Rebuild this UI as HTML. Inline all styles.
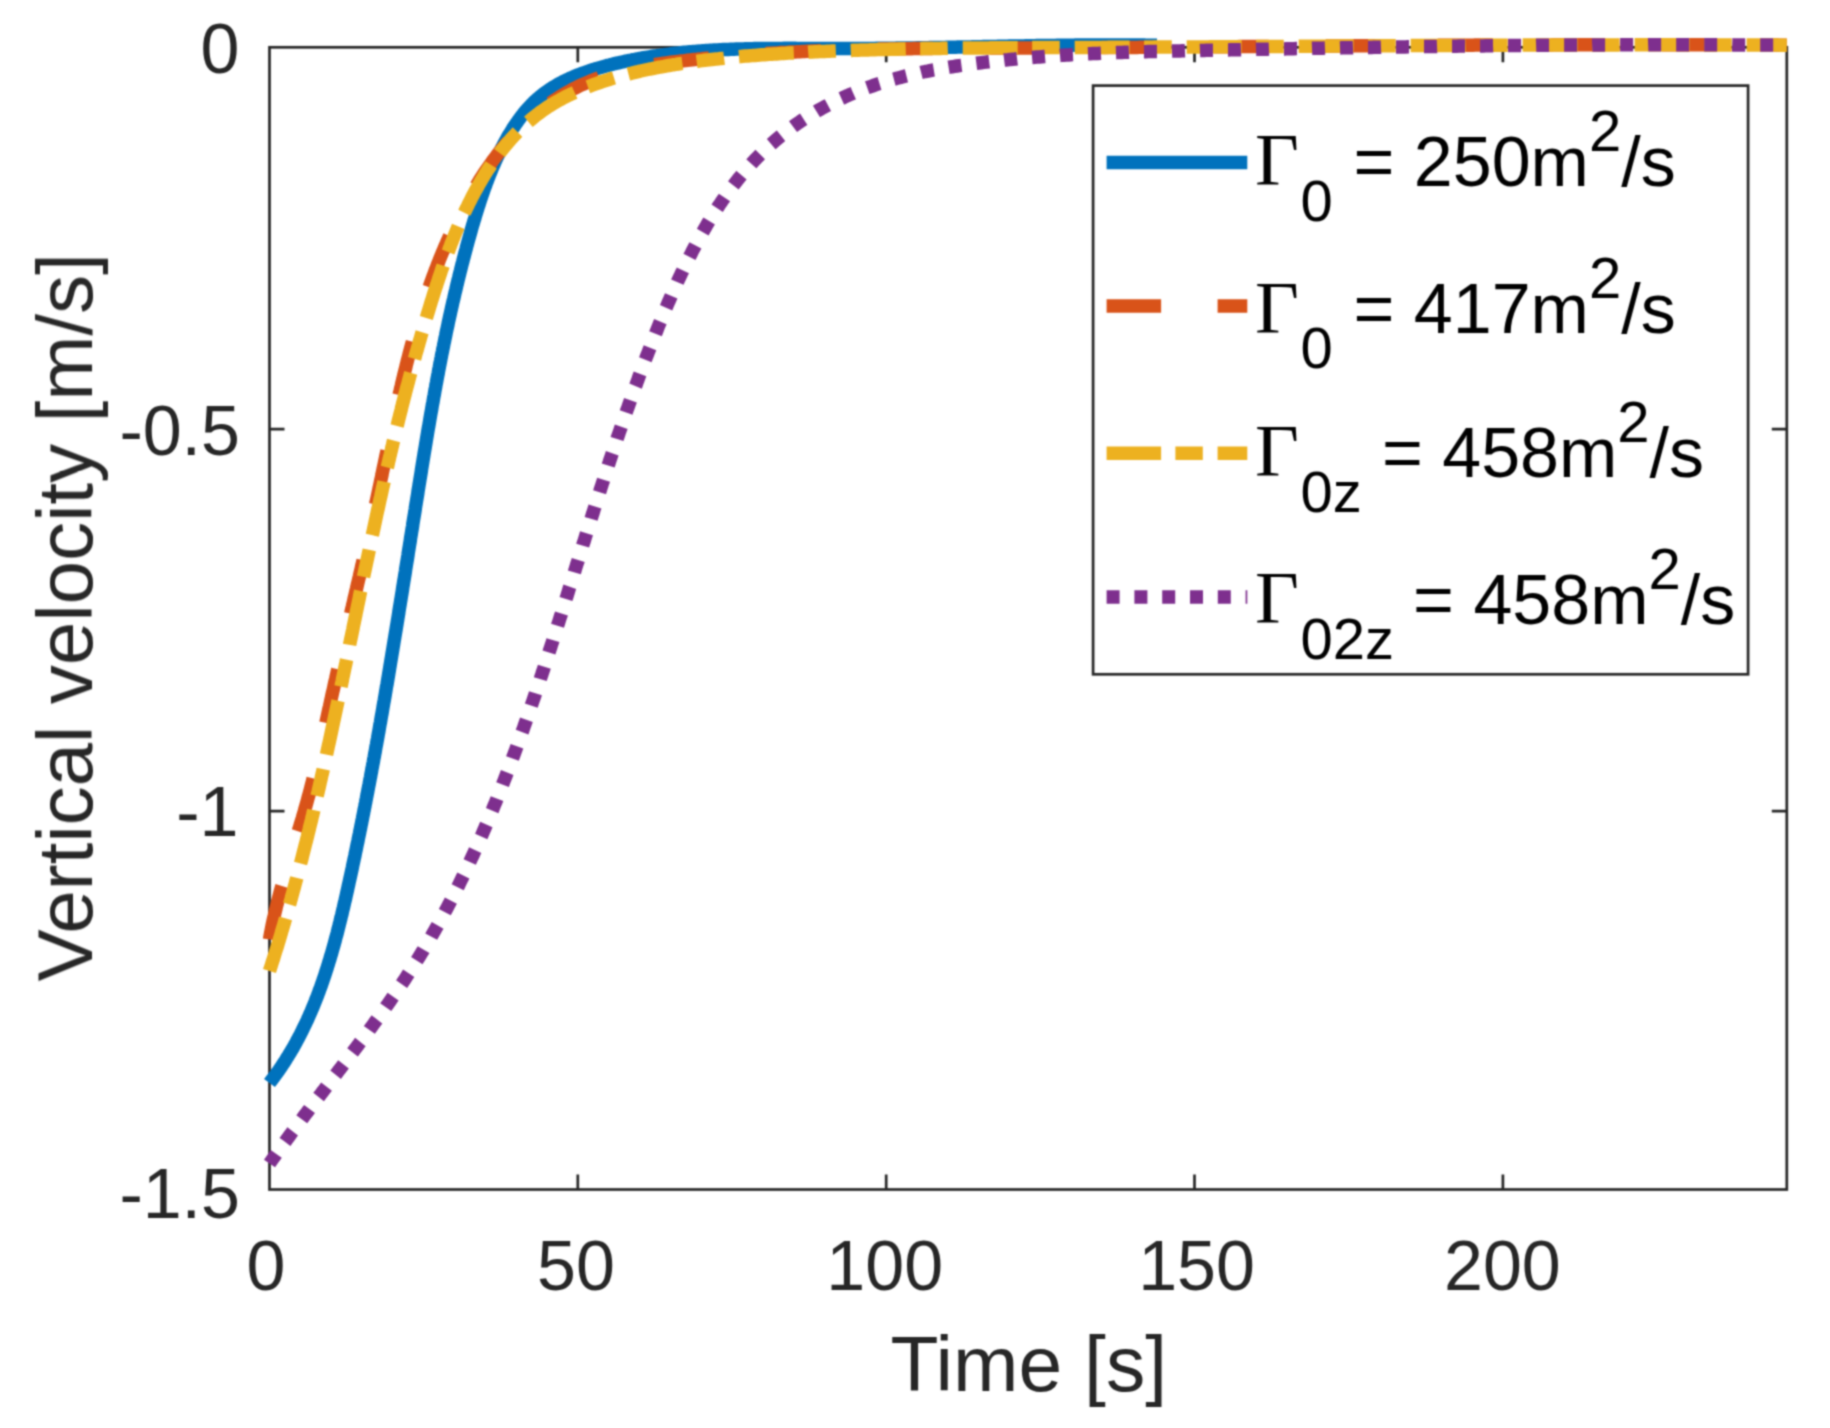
<!DOCTYPE html><html><head><meta charset="utf-8"><title>Vertical velocity</title><style>html,body{margin:0;padding:0;background:#fff;}svg{display:block;}</style></head><body>
<svg width="1830" height="1428" viewBox="0 0 1830 1428">
<rect x="0" y="0" width="1830" height="1428" fill="#fff"/>
<defs><filter id="soft" x="0" y="0" width="1830" height="1428" filterUnits="userSpaceOnUse" color-interpolation-filters="sRGB"><feConvolveMatrix order="5" kernelMatrix="0.00048 0.00501 0.01095 0.00501 0.00048 0.00501 0.05222 0.11405 0.05222 0.00501 0.01095 0.11405 0.24912 0.11405 0.01095 0.00501 0.05222 0.11405 0.05222 0.00501 0.00048 0.00501 0.01095 0.00501 0.00048" divisor="1.00000" edgeMode="duplicate"/></filter></defs>
<g filter="url(#soft)">
<rect x="269.5" y="47.3" width="1517.3" height="1142.2" fill="none" stroke="#262626" stroke-width="2.7"/>
<path d="M577.8 1189.5V1174.5M577.8 47.3V62.3M886.2 1189.5V1174.5M886.2 47.3V62.3M1194.5 1189.5V1174.5M1194.5 47.3V62.3M1502.9 1189.5V1174.5M1502.9 47.3V62.3M269.5 429.2H284.5M1786.8 429.2H1771.8M269.5 811.2H284.5M1786.8 811.2H1771.8" stroke="#262626" stroke-width="2.7" fill="none"/>
<path d="M269.5 1083.0L270.6 1081.5L271.8 1080.0L272.9 1078.5L274.0 1077.0L275.1 1075.5L276.2 1074.0L277.3 1072.5L278.4 1071.0L279.4 1069.5L280.5 1067.9L281.5 1066.4L282.5 1064.8L283.6 1063.3L284.6 1061.7L285.6 1060.2L286.5 1058.6L287.5 1057.1L288.5 1055.5L289.4 1053.9L290.4 1052.3L291.3 1050.8L292.3 1049.2L293.2 1047.6L294.1 1046.0L295.0 1044.4L295.9 1042.8L296.7 1041.2L297.6 1039.5L298.5 1037.9L299.3 1036.3L300.2 1034.7L301.0 1033.0L301.8 1031.4L302.6 1029.8L303.4 1028.1L304.2 1026.5L305.0 1024.8L305.8 1023.2L306.6 1021.5L307.4 1019.8L308.1 1018.2L308.9 1016.5L309.6 1014.8L310.3 1013.2L311.1 1011.5L311.8 1009.8L312.5 1008.1L313.2 1006.4L313.9 1004.7L314.6 1003.0L315.3 1001.3L315.9 999.6L316.6 997.9L317.3 996.2L317.9 994.5L318.6 992.8L319.2 991.0L319.8 989.3L320.5 987.6L321.1 985.9L321.7 984.1L322.3 982.4L322.9 980.7L323.5 978.9L324.1 977.2L324.7 975.5L325.3 973.7L325.8 972.0L326.4 970.2L327.0 968.5L327.5 966.7L328.1 964.9L328.6 963.2L329.1 961.4L329.7 959.7L330.2 957.9L330.7 956.1L331.3 954.3L331.8 952.6L332.3 950.8L332.8 949.0L333.3 947.2L333.8 945.5L334.3 943.7L334.8 941.9L335.3 940.1L335.7 938.3L336.2 936.5L336.7 934.8L337.2 933.0L337.6 931.2L338.1 929.4L338.5 927.6L339.0 925.8L339.4 924.0L339.9 922.2L340.3 920.4L340.8 918.6L341.2 916.8L341.7 915.0L342.1 913.2L342.5 911.4L342.9 909.6L343.4 907.8L343.8 906.0L344.2 904.1L344.6 902.3L345.1 900.5L345.5 898.7L345.9 896.9L346.3 895.1L346.7 893.3L347.1 891.5L347.5 889.7L347.9 887.9L348.3 886.0L348.7 884.2L349.1 882.4L349.5 880.6L349.9 878.8L350.3 877.0L350.7 875.2L351.1 873.3L351.5 871.5L351.9 869.7L352.3 867.9L352.6 866.1L353.0 864.3L353.4 862.5L353.8 860.6L354.2 858.8L354.6 857.0L355.0 855.2L355.3 853.4L355.7 851.6L356.1 849.8L356.5 847.9L356.8 846.1L357.2 844.3L357.6 842.5L358.0 840.7L358.3 838.9L358.7 837.1L359.1 835.2L359.5 833.4L359.8 831.6L360.2 829.8L360.6 828.0L360.9 826.2L361.3 824.3L361.7 822.5L362.0 820.7L362.4 818.9L362.7 817.1L363.1 815.3L363.5 813.4L363.8 811.6L364.2 809.8L364.5 808.0L364.9 806.2L365.2 804.4L365.6 802.6L365.9 800.7L366.3 798.9L366.6 797.1L367.0 795.3L367.3 793.5L367.7 791.7L368.0 789.8L368.4 788.0L368.7 786.2L369.1 784.4L369.4 782.6L369.8 780.7L370.1 778.9L370.5 777.1L370.8 775.3L371.1 773.5L371.5 771.7L371.8 769.8L372.1 768.0L372.5 766.2L372.8 764.4L373.2 762.6L373.5 760.8L373.8 758.9L374.2 757.1L374.5 755.3L374.8 753.5L375.2 751.7L375.5 749.8L375.8 748.0L376.1 746.2L376.5 744.4L376.8 742.6L377.1 740.8L377.5 738.9L377.8 737.1L378.1 735.3L378.4 733.5L378.8 731.7L379.1 729.8L379.4 728.0L379.7 726.2L380.0 724.4L380.4 722.6L380.7 720.7L381.0 718.9L381.3 717.1L381.6 715.3L382.0 713.5L382.3 711.7L382.6 709.8L382.9 708.0L383.2 706.2L383.5 704.4L383.8 702.6L384.2 700.7L384.5 698.9L384.8 697.1L385.1 695.3L385.4 693.5L385.7 691.6L386.0 689.8L386.3 688.0L386.6 686.2L387.0 684.4L387.3 682.5L387.6 680.7L387.9 678.9L388.2 677.1L388.5 675.3L388.8 673.4L389.1 671.6L389.4 669.8L389.7 668.0L390.0 666.2L390.3 664.3L390.6 662.5L390.9 660.7L391.2 658.9L391.5 657.1L391.8 655.2L392.1 653.4L392.4 651.6L392.7 649.8L393.0 648.0L393.3 646.1L393.6 644.3L393.9 642.5L394.2 640.7L394.5 638.9L394.8 637.0L395.1 635.2L395.4 633.4L395.7 631.6L396.0 629.8L396.3 627.9L396.6 626.1L396.9 624.3L397.2 622.5L397.5 620.7L397.8 618.8L398.1 617.0L398.4 615.2L398.7 613.4L398.9 611.6L399.2 609.7L399.5 607.9L399.8 606.1L400.1 604.3L400.4 602.5L400.7 600.6L401.0 598.8L401.3 597.0L401.6 595.2L401.9 593.4L402.2 591.5L402.5 589.7L402.7 587.9L403.0 586.1L403.3 584.3L403.6 582.4L403.9 580.6L404.2 578.8L404.5 577.0L404.8 575.1L405.1 573.3L405.4 571.5L405.6 569.7L405.9 567.9L406.2 566.0L406.5 564.2L406.8 562.4L407.1 560.6L407.4 558.8L407.7 556.9L408.0 555.1L408.2 553.3L408.5 551.5L408.8 549.7L409.1 547.8L409.4 546.0L409.7 544.2L410.0 542.4L410.3 540.6L410.5 538.7L410.8 536.9L411.1 535.1L411.4 533.3L411.7 531.5L412.0 529.6L412.3 527.8L412.6 526.0L412.8 524.2L413.1 522.4L413.4 520.5L413.7 518.7L414.0 516.9L414.3 515.1L414.6 513.3L414.9 511.4L415.2 509.6L415.4 507.8L415.7 506.0L416.0 504.2L416.3 502.3L416.6 500.5L416.9 498.7L417.2 496.9L417.5 495.1L417.8 493.2L418.0 491.4L418.3 489.6L418.6 487.8L418.9 486.0L419.2 484.1L419.5 482.3L419.8 480.5L420.1 478.7L420.4 476.9L420.7 475.1L421.0 473.2L421.3 471.4L421.5 469.6L421.8 467.8L422.1 466.0L422.4 464.1L422.7 462.3L423.0 460.5L423.3 458.7L423.6 456.9L423.9 455.0L424.2 453.2L424.5 451.4L424.8 449.6L425.1 447.8L425.4 446.0L425.7 444.1L426.0 442.3L426.3 440.5L426.6 438.7L426.9 436.9L427.2 435.1L427.5 433.2L427.8 431.4L428.1 429.6L428.4 427.8L428.8 426.0L429.1 424.2L429.4 422.3L429.7 420.5L430.0 418.7L430.3 416.9L430.6 415.1L430.9 413.3L431.3 411.4L431.6 409.6L431.9 407.8L432.2 406.0L432.5 404.2L432.9 402.4L433.2 400.6L433.5 398.7L433.8 396.9L434.2 395.1L434.5 393.3L434.8 391.5L435.1 389.7L435.5 387.9L435.8 386.0L436.1 384.2L436.5 382.4L436.8 380.6L437.1 378.8L437.5 377.0L437.8 375.2L438.2 373.4L438.5 371.5L438.8 369.7L439.2 367.9L439.5 366.1L439.9 364.3L440.2 362.5L440.6 360.7L440.9 358.9L441.3 357.1L441.6 355.2L442.0 353.4L442.4 351.6L442.7 349.8L443.1 348.0L443.5 346.2L443.8 344.4L444.2 342.6L444.6 340.8L444.9 339.0L445.3 337.2L445.7 335.4L446.0 333.6L446.4 331.7L446.8 329.9L447.2 328.1L447.6 326.3L448.0 324.5L448.3 322.7L448.7 320.9L449.1 319.1L449.5 317.3L449.9 315.5L450.3 313.7L450.7 311.9L451.1 310.1L451.5 308.3L451.9 306.5L452.3 304.7L452.7 302.9L453.1 301.1L453.6 299.3L454.0 297.5L454.4 295.7L454.8 293.9L455.2 292.1L455.7 290.3L456.1 288.5L456.5 286.7L456.9 284.9L457.4 283.1L457.8 281.3L458.2 279.5L458.7 277.7L459.1 275.9L459.6 274.1L460.0 272.3L460.5 270.5L460.9 268.7L461.4 266.9L461.8 265.1L462.3 263.3L462.8 261.5L463.2 259.7L463.7 257.9L464.2 256.1L464.6 254.4L465.1 252.6L465.6 250.8L466.1 249.0L466.5 247.2L467.0 245.4L467.5 243.6L468.0 241.8L468.5 240.0L469.0 238.2L469.5 236.5L470.0 234.7L470.5 232.9L471.0 231.1L471.5 229.3L472.0 227.5L472.5 225.7L473.1 223.9L473.6 222.2L474.1 220.4L474.7 218.6L475.2 216.8L475.7 215.0L476.3 213.2L476.8 211.5L477.4 209.7L477.9 207.9L478.5 206.1L479.1 204.4L479.6 202.6L480.2 200.8L480.8 199.1L481.4 197.3L482.0 195.6L482.6 193.8L483.2 192.0L483.8 190.3L484.4 188.5L485.1 186.8L485.7 185.0L486.3 183.3L487.0 181.6L487.7 179.8L488.3 178.1L489.0 176.4L489.7 174.6L490.4 172.9L491.1 171.2L491.8 169.5L492.5 167.8L493.2 166.1L494.0 164.4L494.7 162.7L495.5 161.0L496.2 159.3L497.0 157.6L497.8 156.0L498.6 154.3L499.4 152.6L500.2 151.0L501.1 149.3L501.9 147.6L502.8 146.0L503.6 144.4L504.5 142.7L505.4 141.1L506.3 139.5L507.2 137.9L508.1 136.2L509.1 134.6L510.0 133.1L511.0 131.5L512.0 129.9L512.9 128.3L514.0 126.8L515.0 125.2L516.0 123.7L517.1 122.2L518.1 120.7L519.2 119.2L520.3 117.7L521.4 116.2L522.5 114.8L523.7 113.3L524.8 111.9L526.0 110.5L527.2 109.2L528.4 107.8L529.6 106.5L530.9 105.2L532.1 103.9L533.4 102.6L534.7 101.3L536.0 100.1L537.4 98.9L538.7 97.7L540.1 96.6L541.5 95.5L542.9 94.3L544.3 93.3L545.8 92.2L547.2 91.2L548.7 90.1L550.2 89.1L551.7 88.2L553.2 87.2L554.8 86.3L556.3 85.3L557.9 84.4L559.5 83.6L561.1 82.7L562.7 81.9L564.3 81.0L565.9 80.2L567.6 79.5L569.2 78.7L570.9 77.9L572.6 77.2L574.2 76.5L575.9 75.8L577.6 75.1L579.3 74.4L581.1 73.7L582.8 73.1L584.5 72.5L586.3 71.9L588.0 71.3L589.8 70.7L591.5 70.1L593.3 69.5L595.1 69.0L596.9 68.4L598.7 67.9L600.5 67.4L602.2 66.9L604.0 66.4L605.8 65.9L607.7 65.4L609.5 65.0L611.3 64.5L613.1 64.1L614.9 63.6L616.7 63.2L618.5 62.8L620.4 62.4L622.2 62.0L624.0 61.6L625.8 61.2L627.6 60.8L629.5 60.4L631.3 60.1L633.1 59.7L634.9 59.4L636.7 59.0L638.6 58.7L640.4 58.3L642.2 58.0L644.0 57.7L645.9 57.4L647.7 57.1L649.5 56.8L651.4 56.5L653.2 56.2L655.0 55.9L656.8 55.7L658.7 55.4L660.5 55.2L662.3 54.9L664.2 54.7L666.0 54.4L667.8 54.2L669.7 54.0L671.5 53.7L673.3 53.5L675.2 53.3L677.0 53.1L678.9 52.9L680.7 52.7L682.5 52.5L684.4 52.3L686.2 52.2L688.0 52.0L689.9 51.8L691.7 51.7L693.6 51.5L695.4 51.4L697.2 51.2L699.1 51.1L700.9 50.9L702.8 50.8L704.6 50.7L706.5 50.5L708.3 50.4L710.1 50.3L712.0 50.2L713.8 50.1L715.7 50.0L717.5 49.9L719.4 49.8L721.2 49.7L723.1 49.6L724.9 49.5L726.7 49.4L728.6 49.4L730.4 49.3L732.3 49.2L734.1 49.2L736.0 49.1L737.8 49.0L739.7 49.0L741.5 48.9L743.4 48.9L745.2 48.8L747.1 48.8L748.9 48.7L750.8 48.7L752.6 48.7L754.5 48.6L756.3 48.6L758.2 48.6L760.0 48.5L761.9 48.5L763.7 48.5L765.6 48.5L767.4 48.4L769.3 48.4L771.1 48.4L773.0 48.4L774.8 48.4L776.7 48.4L778.5 48.4L780.4 48.4L782.2 48.4L784.1 48.3L785.9 48.3L787.8 48.3L789.6 48.3L791.5 48.3L793.3 48.3L795.2 48.3L797.0 48.4L798.9 48.4L800.7 48.4L802.6 48.4L804.4 48.4L806.3 48.4L808.1 48.4L810.0 48.4L811.8 48.4L813.7 48.4L815.5 48.4L817.4 48.4L819.3 48.4L821.1 48.4L823.0 48.4L824.8 48.5L826.7 48.5L828.5 48.5L830.4 48.5L832.2 48.5L834.1 48.5L835.9 48.5L837.8 48.5L839.6 48.5L841.5 48.5L843.3 48.5L845.1 48.5L847.0 48.5L848.8 48.5L850.7 48.5L852.5 48.5L854.4 48.5L856.2 48.5L858.1 48.5L859.9 48.5L861.8 48.4L863.6 48.4L865.5 48.4L867.3 48.4L869.2 48.4L871.0 48.4L872.9 48.4L874.7 48.4L876.6 48.3L878.4 48.3L880.2 48.3L882.1 48.3L883.9 48.3L885.8 48.3L887.6 48.2L889.5 48.2L891.3 48.2L893.2 48.2L895.0 48.2L896.8 48.1L898.7 48.1L900.5 48.1L902.4 48.1L904.2 48.0L906.1 48.0L907.9 48.0L909.8 48.0L911.6 47.9L913.4 47.9L915.3 47.9L917.1 47.8L919.0 47.8L920.8 47.8L922.7 47.8L924.5 47.7L926.3 47.7L928.2 47.7L930.0 47.6L931.9 47.6L933.7 47.6L935.6 47.5L937.4 47.5L939.2 47.5L941.1 47.4L942.9 47.4L944.8 47.4L946.6 47.3L948.5 47.3L950.3 47.3L952.1 47.2L954.0 47.2L955.8 47.2L957.7 47.1L959.5 47.1L961.4 47.1L963.2 47.0L965.0 47.0L966.9 46.9L968.7 46.9L970.6 46.9L972.4 46.8L974.3 46.8L976.1 46.8L977.9 46.7L979.8 46.7L981.6 46.7L983.5 46.6L985.3 46.6L987.1 46.5L989.0 46.5L990.8 46.5L992.7 46.4L994.5 46.4L996.4 46.4L998.2 46.3L1000.0 46.3L1001.9 46.3L1003.7 46.2L1005.6 46.2L1007.4 46.2L1009.3 46.1L1011.1 46.1L1012.9 46.1L1014.8 46.0L1016.6 46.0L1018.5 46.0L1020.3 45.9L1022.2 45.9L1024.0 45.9L1025.8 45.8L1027.7 45.8L1029.5 45.8L1031.4 45.7L1033.2 45.7L1035.1 45.7L1036.9 45.6L1038.7 45.6L1040.6 45.6L1042.4 45.6L1044.3 45.5L1046.1 45.5L1048.0 45.5L1049.8 45.4L1051.6 45.4L1053.5 45.4L1055.3 45.4L1057.2 45.3L1059.0 45.3L1060.9 45.3L1062.7 45.3L1064.6 45.3L1066.4 45.2L1068.2 45.2L1070.1 45.2L1071.9 45.2L1073.8 45.2L1075.6 45.1L1077.5 45.1L1079.3 45.1L1081.2 45.1L1083.0 45.1L1084.9 45.1L1086.7 45.1L1088.6 45.0L1090.4 45.0L1092.2 45.0L1094.1 45.0L1095.9 45.0L1097.8 45.0L1099.6 45.0L1101.5 45.0L1103.3 45.0L1105.2 45.0L1107.0 45.0L1108.9 45.0L1110.7 45.0L1112.6 45.0L1114.4 45.0L1116.3 45.0L1118.1 45.0L1120.0 45.0L1121.8 45.0L1123.7 45.0L1125.5 45.0L1127.4 45.0L1129.2 45.0L1131.1 45.0L1132.9 45.0L1134.8 45.1L1136.6 45.1L1138.5 45.1L1140.3 45.1L1142.2 45.1L1144.0 45.1L1145.9 45.2L1147.7 45.2L1149.6 45.2L1151.4 45.2L1153.3 45.2L1155.1 45.3L1157.0 45.3" fill="none" stroke="#0072BD" stroke-width="13.5" stroke-linejoin="round" stroke-linecap="butt"/>
<path d="M269.5 939.5L269.9 937.1L270.3 934.8L270.8 932.5L271.2 930.1L271.7 927.8L272.1 925.5L272.6 923.1L273.1 920.8L273.6 918.5L274.2 916.2L274.7 913.8L275.2 911.5L275.8 909.2L276.3 906.9L276.9 904.6L277.5 902.3L278.1 900.0L278.7 897.7L279.3 895.4L279.9 893.1L280.5 890.8L281.2 888.6L281.8 886.3L282.5 884.0L283.1 881.7L283.8 879.4L284.4 877.1L285.1 874.9L285.8 872.6L286.4 870.3L287.1 868.0L287.8 865.7L288.5 863.5L289.2 861.2L289.9 858.9L290.6 856.7L291.3 854.4L291.9 852.1L292.6 849.8L293.3 847.6L294.0 845.3L294.7 843.0L295.4 840.7L296.1 838.5L296.8 836.2L297.5 833.9L298.2 831.6L298.9 829.4L299.6 827.1L300.3 824.8L301.0 822.5L301.7 820.2L302.4 818.0L303.0 815.7L303.7 813.4L304.4 811.1L305.0 808.8L305.7 806.5L306.3 804.2L307.0 801.9L307.6 799.6L308.2 797.3L308.9 795.0L309.5 792.7L310.1 790.4L310.7 788.1L311.3 785.8L311.9 783.5L312.5 781.2L313.0 778.9L313.6 776.5L314.2 774.2L314.8 771.9L315.3 769.6L315.9 767.3L316.4 764.9L317.0 762.6L317.5 760.3L318.1 758.0L318.6 755.6L319.1 753.3L319.7 751.0L320.2 748.6L320.7 746.3L321.3 744.0L321.8 741.6L322.3 739.3L322.8 737.0L323.3 734.6L323.8 732.3L324.4 730.0L324.9 727.6L325.4 725.3L325.9 723.0L326.4 720.7L326.9 718.3L327.4 716.0L327.9 713.7L328.4 711.3L328.9 709.0L329.5 706.7L330.0 704.3L330.5 702.0L331.0 699.7L331.5 697.4L332.0 695.0L332.5 692.7L333.1 690.4L333.6 688.1L334.1 685.8L334.6 683.4L335.1 681.1L335.7 678.8L336.2 676.5L336.7 674.2L337.2 671.9L337.8 669.5L338.3 667.2L338.8 664.9L339.3 662.6L339.9 660.3L340.4 658.0L340.9 655.7L341.5 653.4L342.0 651.1L342.5 648.7L343.1 646.4L343.6 644.1L344.1 641.8L344.7 639.5L345.2 637.2L345.7 634.9L346.3 632.6L346.8 630.3L347.3 628.0L347.9 625.7L348.4 623.4L349.0 621.1L349.5 618.8L350.0 616.5L350.6 614.2L351.1 611.9L351.6 609.6L352.2 607.3L352.7 605.0L353.3 602.7L353.8 600.4L354.3 598.0L354.9 595.7L355.4 593.4L355.9 591.1L356.5 588.8L357.0 586.5L357.5 584.2L358.1 581.9L358.6 579.6L359.2 577.3L359.7 575.0L360.2 572.7L360.8 570.4L361.3 568.1L361.8 565.8L362.4 563.5L362.9 561.2L363.4 558.9L363.9 556.6L364.5 554.3L365.0 551.9L365.5 549.6L366.1 547.3L366.6 545.0L367.1 542.7L367.6 540.4L368.2 538.1L368.7 535.8L369.2 533.4L369.7 531.1L370.2 528.8L370.8 526.5L371.3 524.2L371.8 521.9L372.3 519.5L372.8 517.2L373.3 514.9L373.8 512.6L374.4 510.2L374.9 507.9L375.4 505.6L375.9 503.3L376.4 500.9L376.9 498.6L377.4 496.3L377.9 494.0L378.4 491.6L378.9 489.3L379.4 486.9L379.9 484.6L380.4 482.3L380.9 479.9L381.4 477.6L381.9 475.3L382.3 472.9L382.8 470.6L383.3 468.2L383.8 465.9L384.3 463.6L384.8 461.2L385.3 458.9L385.8 456.5L386.3 454.2L386.8 451.8L387.3 449.5L387.8 447.2L388.3 444.8L388.8 442.5L389.3 440.1L389.7 437.8L390.2 435.4L390.7 433.1L391.2 430.7L391.8 428.4L392.3 426.1L392.8 423.7L393.3 421.4L393.8 419.0L394.3 416.7L394.8 414.3L395.3 412.0L395.8 409.7L396.4 407.3L396.9 405.0L397.4 402.7L397.9 400.3L398.5 398.0L399.0 395.6L399.5 393.3L400.1 391.0L400.6 388.6L401.2 386.3L401.7 384.0L402.3 381.6L402.8 379.3L403.4 377.0L403.9 374.7L404.5 372.3L405.1 370.0L405.7 367.7L406.2 365.4L406.8 363.1L407.4 360.7L408.0 358.4L408.6 356.1L409.2 353.8L409.8 351.5L410.4 349.2L411.0 346.9L411.6 344.6L412.3 342.3L412.9 340.0L413.5 337.7L414.2 335.4L414.8 333.1L415.5 330.8L416.1 328.5L416.8 326.2L417.5 323.9L418.1 321.6L418.8 319.4L419.5 317.1L420.2 314.8L420.9 312.5L421.6 310.3L422.3 308.0L423.0 305.7L423.8 303.5L424.5 301.2L425.2 298.9L426.0 296.7L426.7 294.4L427.5 292.2L428.3 289.9L429.0 287.7L429.8 285.5L430.6 283.2L431.4 281.0L432.2 278.8L433.0 276.5L433.9 274.3L434.7 272.1L435.5 269.9L436.4 267.7L437.2 265.5L438.1 263.2L439.0 261.0L439.8 258.8L440.7 256.7L441.6 254.5L442.5 252.3L443.5 250.1L444.4 247.9L445.3 245.7L446.3 243.6L447.2 241.4L448.2 239.2L449.1 237.1L450.1 234.9L451.1 232.8L452.1 230.6L453.1 228.5L454.2 226.3L455.2 224.2L456.2 222.1L457.3 220.0L458.4 217.8L459.4 215.7L460.5 213.6L461.6 211.5L462.7 209.4L463.8 207.3L465.0 205.2L466.1 203.1L467.3 201.0L468.4 199.0L469.6 196.9L470.8 194.8L472.0 192.8L473.2 190.7L474.4 188.7L475.7 186.6L476.9 184.6L478.2 182.5L479.4 180.5L480.7 178.5L482.0 176.5L483.3 174.5L484.6 172.4L486.0 170.4L487.3 168.5L488.7 166.5L490.1 164.5L491.5 162.5L492.9 160.6L494.3 158.7L495.8 156.7L497.2 154.8L498.7 152.9L500.2 151.0L501.7 149.1L503.2 147.3L504.8 145.4L506.4 143.6L507.9 141.8L509.5 139.9L511.1 138.2L512.8 136.4L514.4 134.6L516.1 132.9L517.7 131.1L519.4 129.4L521.1 127.7L522.8 126.0L524.6 124.4L526.3 122.7L528.1 121.1L529.8 119.5L531.6 117.9L533.4 116.3L535.3 114.8L537.1 113.2L538.9 111.7L540.8 110.2L542.7 108.8L544.6 107.3L546.5 105.9L548.4 104.5L550.3 103.1L552.3 101.7L554.2 100.4L556.2 99.1L558.2 97.8L560.2 96.5L562.2 95.3L564.2 94.1L566.3 92.9L568.3 91.7L570.4 90.5L572.4 89.4L574.5 88.3L576.6 87.3L578.7 86.2L580.9 85.2L583.0 84.3L585.2 83.3L587.3 82.4L589.5 81.5L591.7 80.6L593.9 79.7L596.1 78.9L598.3 78.1L600.5 77.3L602.8 76.6L605.0 75.9L607.3 75.1L609.5 74.4L611.8 73.8L614.1 73.1L616.4 72.5L618.7 71.9L621.0 71.3L623.3 70.7L625.6 70.2L627.9 69.6L630.3 69.1L632.6 68.6L634.9 68.1L637.3 67.6L639.6 67.2L642.0 66.7L644.4 66.3L646.7 65.9L649.1 65.5L651.5 65.1L653.9 64.7L656.2 64.3L658.6 64.0L661.0 63.6L663.4 63.3L665.8 63.0L668.2 62.6L670.6 62.3L673.0 62.0L675.4 61.7L677.8 61.4L680.2 61.1L682.6 60.9L685.0 60.6L687.4 60.3L689.8 60.1L692.2 59.8L694.6 59.5L697.0 59.3L699.4 59.0L701.8 58.8L704.2 58.5L706.6 58.3L709.0 58.1L711.4 57.8L713.8 57.6L716.2 57.4L718.6 57.2L721.0 57.0L723.4 56.7L725.8 56.5L728.2 56.3L730.6 56.1L732.9 55.9L735.3 55.7L737.7 55.5L740.1 55.4L742.5 55.2L744.9 55.0L747.3 54.8L749.7 54.6L752.1 54.5L754.5 54.3L756.8 54.1L759.2 54.0L761.6 53.8L764.0 53.7L766.4 53.5L768.8 53.3L771.2 53.2L773.6 53.1L775.9 52.9L778.3 52.8L780.7 52.6L783.1 52.5L785.5 52.4L787.9 52.3L790.3 52.1L792.6 52.0L795.0 51.9L797.4 51.8L799.8 51.7L802.2 51.5L804.5 51.4L806.9 51.3L809.3 51.2L811.7 51.1L814.1 51.0L816.5 50.9L818.8 50.8L821.2 50.7L823.6 50.7L826.0 50.6L828.3 50.5L830.7 50.4L833.1 50.3L835.5 50.2L837.9 50.2L840.2 50.1L842.6 50.0L845.0 50.0L847.4 49.9L849.7 49.8L852.1 49.8L854.5 49.7L856.9 49.6L859.3 49.6L861.6 49.5L864.0 49.5L866.4 49.4L868.8 49.4L871.1 49.3L873.5 49.3L875.9 49.2L878.3 49.2L880.6 49.1L883.0 49.1L885.4 49.0L887.8 49.0L890.1 49.0L892.5 48.9L894.9 48.9L897.3 48.8L899.6 48.8L902.0 48.8L904.4 48.7L906.7 48.7L909.1 48.7L911.5 48.7L913.9 48.6L916.2 48.6L918.6 48.6L921.0 48.6L923.4 48.5L925.7 48.5L928.1 48.5L930.5 48.5L932.9 48.5L935.2 48.4L937.6 48.4L940.0 48.4L942.3 48.4L944.7 48.4L947.1 48.4L949.5 48.3L951.8 48.3L954.2 48.3L956.6 48.3L959.0 48.3L961.3 48.3L963.7 48.3L966.1 48.2L968.4 48.2L970.8 48.2L973.2 48.2L975.6 48.2L977.9 48.2L980.3 48.2L982.7 48.2L985.1 48.2L987.4 48.2L989.8 48.1L992.2 48.1L994.5 48.1L996.9 48.1L999.3 48.1L1001.7 48.1L1004.0 48.1L1006.4 48.1L1008.8 48.1L1011.2 48.1L1013.5 48.0L1015.9 48.0L1018.3 48.0L1020.7 48.0L1023.0 48.0L1025.4 48.0L1027.8 48.0L1030.2 48.0L1032.5 48.0L1034.9 47.9L1037.3 47.9L1039.7 47.9L1042.0 47.9L1044.4 47.9L1046.8 47.9L1049.2 47.9L1051.5 47.9L1053.9 47.8L1056.3 47.8L1058.7 47.8L1061.0 47.8L1063.4 47.8L1065.8 47.8L1068.2 47.8L1070.6 47.8L1072.9 47.7L1075.3 47.7L1077.7 47.7L1080.1 47.7L1082.4 47.7L1084.8 47.7L1087.2 47.7L1089.6 47.6L1091.9 47.6L1094.3 47.6L1096.7 47.6L1099.1 47.6L1101.5 47.6L1103.8 47.6L1106.2 47.5L1108.6 47.5L1111.0 47.5L1113.3 47.5L1115.7 47.5L1118.1 47.5L1120.5 47.5L1122.9 47.4L1125.2 47.4L1127.6 47.4L1130.0 47.4L1132.4 47.4L1134.7 47.4L1137.1 47.4L1139.5 47.3L1141.9 47.3L1144.3 47.3L1146.6 47.3L1149.0 47.3L1151.4 47.3L1153.8 47.2L1156.2 47.2L1158.5 47.2L1160.9 47.2L1163.3 47.2L1165.7 47.2L1168.0 47.1L1170.4 47.1L1172.8 47.1L1175.2 47.1L1177.6 47.1L1179.9 47.1L1182.3 47.0L1184.7 47.0L1187.1 47.0L1189.5 47.0L1191.8 47.0L1194.2 47.0L1196.6 46.9L1199.0 46.9L1201.4 46.9L1203.7 46.9L1206.1 46.9L1208.5 46.9L1210.9 46.8L1213.3 46.8L1215.6 46.8L1218.0 46.8L1220.4 46.8L1222.8 46.8L1225.2 46.7L1227.5 46.7L1229.9 46.7L1232.3 46.7L1234.7 46.7L1237.1 46.7L1239.5 46.6L1241.8 46.6L1244.2 46.6L1246.6 46.6L1249.0 46.6L1251.4 46.6L1253.7 46.5L1256.1 46.5L1258.5 46.5L1260.9 46.5L1263.3 46.5L1265.6 46.5L1268.0 46.4L1270.4 46.4L1272.8 46.4L1275.2 46.4L1277.5 46.4L1279.9 46.4L1282.3 46.3L1284.7 46.3L1287.1 46.3L1289.5 46.3L1291.8 46.3L1294.2 46.3L1296.6 46.2L1299.0 46.2L1301.4 46.2L1303.7 46.2L1306.1 46.2L1308.5 46.2L1310.9 46.1L1313.3 46.1L1315.7 46.1L1318.0 46.1L1320.4 46.1L1322.8 46.1L1325.2 46.0L1327.6 46.0L1329.9 46.0L1332.3 46.0L1334.7 46.0L1337.1 46.0L1339.5 45.9L1341.9 45.9L1344.2 45.9L1346.6 45.9L1349.0 45.9L1351.4 45.9L1353.8 45.8L1356.1 45.8L1358.5 45.8L1360.9 45.8L1363.3 45.8L1365.7 45.8L1368.1 45.8L1370.4 45.7L1372.8 45.7L1375.2 45.7L1377.6 45.7L1380.0 45.7L1382.3 45.7L1384.7 45.6L1387.1 45.6L1389.5 45.6L1391.9 45.6L1394.3 45.6L1396.6 45.6L1399.0 45.6L1401.4 45.5L1403.8 45.5L1406.2 45.5L1408.5 45.5L1410.9 45.5L1413.3 45.5L1415.7 45.5L1418.1 45.4L1420.5 45.4L1422.8 45.4L1425.2 45.4L1427.6 45.4L1430.0 45.4L1432.4 45.4L1434.7 45.4L1437.1 45.3L1439.5 45.3L1441.9 45.3L1444.3 45.3L1446.7 45.3L1449.0 45.3L1451.4 45.3L1453.8 45.2L1456.2 45.2L1458.6 45.2L1460.9 45.2L1463.3 45.2L1465.7 45.2L1468.1 45.2L1470.5 45.2L1472.9 45.2L1475.2 45.1L1477.6 45.1L1480.0 45.1L1482.4 45.1L1484.8 45.1L1487.1 45.1L1489.5 45.1L1491.9 45.1L1494.3 45.1L1496.7 45.0L1499.1 45.0L1501.4 45.0L1503.8 45.0L1506.2 45.0L1508.6 45.0L1511.0 45.0L1513.3 45.0L1515.7 45.0L1518.1 45.0L1520.5 45.0L1522.9 44.9L1525.2 44.9L1527.6 44.9L1530.0 44.9L1532.4 44.9L1534.8 44.9L1537.1 44.9L1539.5 44.9L1541.9 44.9L1544.3 44.9L1546.7 44.9L1549.1 44.9L1551.4 44.9L1553.8 44.8L1556.2 44.8L1558.6 44.8L1561.0 44.8L1563.3 44.8L1565.7 44.8L1568.1 44.8L1570.5 44.8L1572.9 44.8L1575.2 44.8L1577.6 44.8L1580.0 44.8L1582.4 44.8L1584.8 44.8L1587.1 44.8L1589.5 44.8L1591.9 44.8L1594.3 44.8L1596.7 44.8L1599.0 44.8L1601.4 44.8L1603.8 44.7L1606.2 44.7L1608.6 44.7L1610.9 44.7L1613.3 44.7L1615.7 44.7L1618.1 44.7L1620.4 44.7L1622.8 44.7L1625.2 44.7L1627.6 44.7L1630.0 44.7L1632.3 44.7L1634.7 44.7L1637.1 44.7L1639.5 44.7L1641.9 44.7L1644.2 44.7L1646.6 44.7L1649.0 44.7L1651.4 44.7L1653.7 44.7L1656.1 44.7L1658.5 44.7L1660.9 44.7L1663.3 44.7L1665.6 44.7L1668.0 44.7L1670.4 44.8L1672.8 44.8L1675.1 44.8L1677.5 44.8L1679.9 44.8L1682.3 44.8L1684.7 44.8L1687.0 44.8L1689.4 44.8L1691.8 44.8L1694.2 44.8L1696.5 44.8L1698.9 44.8L1701.3 44.8L1703.7 44.8L1706.1 44.8L1708.4 44.8L1710.8 44.8L1713.2 44.8L1715.6 44.9L1717.9 44.9L1720.3 44.9L1722.7 44.9L1725.1 44.9L1727.4 44.9L1729.8 44.9L1732.2 44.9L1734.6 44.9L1736.9 44.9L1739.3 44.9L1741.7 45.0L1744.1 45.0L1746.4 45.0L1748.8 45.0L1751.2 45.0L1753.6 45.0L1755.9 45.0L1758.3 45.0L1760.7 45.0L1763.1 45.1L1765.4 45.1L1767.8 45.1L1770.2 45.1L1772.6 45.1L1774.9 45.1L1777.3 45.1L1779.7 45.2L1782.1 45.2L1784.4 45.2L1786.8 45.2" fill="none" stroke="#D95319" stroke-width="13.5" stroke-linejoin="round" stroke-linecap="butt" stroke-dasharray="55 57"/>
<path d="M269.5 971.0L270.2 968.7L271.0 966.4L271.7 964.1L272.4 961.8L273.2 959.5L273.9 957.2L274.6 954.9L275.3 952.6L276.0 950.3L276.8 948.0L277.5 945.7L278.2 943.4L278.9 941.0L279.6 938.7L280.3 936.4L281.0 934.1L281.6 931.8L282.3 929.5L283.0 927.2L283.7 924.9L284.4 922.5L285.0 920.2L285.7 917.9L286.4 915.6L287.0 913.3L287.7 911.0L288.4 908.6L289.0 906.3L289.7 904.0L290.3 901.7L291.0 899.4L291.6 897.0L292.2 894.7L292.9 892.4L293.5 890.1L294.2 887.7L294.8 885.4L295.4 883.1L296.0 880.7L296.7 878.4L297.3 876.1L297.9 873.8L298.5 871.4L299.1 869.1L299.7 866.8L300.3 864.4L300.9 862.1L301.6 859.8L302.2 857.4L302.7 855.1L303.3 852.8L303.9 850.4L304.5 848.1L305.1 845.7L305.7 843.4L306.3 841.1L306.9 838.7L307.5 836.4L308.0 834.0L308.6 831.7L309.2 829.4L309.7 827.0L310.3 824.7L310.9 822.3L311.5 820.0L312.0 817.6L312.6 815.3L313.1 813.0L313.7 810.6L314.2 808.3L314.8 805.9L315.4 803.6L315.9 801.2L316.5 798.9L317.0 796.5L317.5 794.2L318.1 791.8L318.6 789.5L319.2 787.1L319.7 784.8L320.2 782.4L320.8 780.1L321.3 777.7L321.8 775.4L322.4 773.0L322.9 770.7L323.4 768.3L324.0 766.0L324.5 763.6L325.0 761.3L325.5 758.9L326.1 756.6L326.6 754.2L327.1 751.8L327.6 749.5L328.1 747.1L328.6 744.8L329.2 742.4L329.7 740.1L330.2 737.7L330.7 735.3L331.2 733.0L331.7 730.6L332.2 728.3L332.7 725.9L333.2 723.6L333.7 721.2L334.2 718.8L334.7 716.5L335.2 714.1L335.7 711.8L336.2 709.4L336.7 707.0L337.2 704.7L337.7 702.3L338.2 700.0L338.7 697.6L339.2 695.2L339.7 692.9L340.2 690.5L340.7 688.1L341.2 685.8L341.7 683.4L342.2 681.1L342.6 678.7L343.1 676.3L343.6 674.0L344.1 671.6L344.6 669.2L345.1 666.9L345.6 664.5L346.1 662.2L346.5 659.8L347.0 657.4L347.5 655.1L348.0 652.7L348.5 650.3L349.0 648.0L349.5 645.6L349.9 643.2L350.4 640.9L350.9 638.5L351.4 636.2L351.9 633.8L352.4 631.4L352.9 629.1L353.3 626.7L353.8 624.3L354.3 622.0L354.8 619.6L355.3 617.2L355.8 614.9L356.2 612.5L356.7 610.2L357.2 607.8L357.7 605.4L358.2 603.1L358.7 600.7L359.2 598.3L359.6 596.0L360.1 593.6L360.6 591.2L361.1 588.9L361.6 586.5L362.1 584.2L362.6 581.8L363.1 579.4L363.5 577.1L364.0 574.7L364.5 572.3L365.0 570.0L365.5 567.6L366.0 565.3L366.5 562.9L367.0 560.5L367.5 558.2L368.0 555.8L368.5 553.5L369.0 551.1L369.5 548.7L370.0 546.4L370.5 544.0L371.0 541.7L371.5 539.3L372.0 536.9L372.5 534.6L373.0 532.2L373.5 529.9L374.0 527.5L374.5 525.1L375.0 522.8L375.5 520.4L376.0 518.1L376.5 515.7L377.0 513.4L377.5 511.0L378.1 508.6L378.6 506.3L379.1 503.9L379.6 501.6L380.1 499.2L380.7 496.9L381.2 494.5L381.7 492.2L382.2 489.8L382.7 487.5L383.3 485.1L383.8 482.8L384.3 480.4L384.9 478.1L385.4 475.7L385.9 473.3L386.5 471.0L387.0 468.6L387.6 466.3L388.1 464.0L388.6 461.6L389.2 459.3L389.7 456.9L390.3 454.6L390.8 452.2L391.4 449.9L391.9 447.5L392.5 445.2L393.0 442.8L393.6 440.5L394.2 438.1L394.7 435.8L395.3 433.5L395.9 431.1L396.4 428.8L397.0 426.4L397.6 424.1L398.1 421.8L398.7 419.4L399.3 417.1L399.9 414.7L400.5 412.4L401.1 410.1L401.6 407.7L402.2 405.4L402.8 403.0L403.4 400.7L404.0 398.4L404.6 396.0L405.2 393.7L405.8 391.4L406.4 389.0L407.0 386.7L407.7 384.4L408.3 382.1L408.9 379.7L409.5 377.4L410.1 375.1L410.8 372.7L411.4 370.4L412.0 368.1L412.6 365.8L413.3 363.4L413.9 361.1L414.6 358.8L415.2 356.5L415.8 354.1L416.5 351.8L417.2 349.5L417.8 347.2L418.5 344.9L419.1 342.5L419.8 340.2L420.5 337.9L421.1 335.6L421.8 333.3L422.5 331.0L423.1 328.7L423.8 326.3L424.5 324.0L425.2 321.7L425.9 319.4L426.6 317.1L427.3 314.8L428.0 312.5L428.7 310.2L429.4 307.9L430.1 305.6L430.8 303.3L431.5 300.9L432.3 298.6L433.0 296.3L433.7 294.0L434.4 291.7L435.2 289.4L435.9 287.1L436.7 284.9L437.4 282.6L438.2 280.3L438.9 278.0L439.7 275.7L440.5 273.4L441.2 271.1L442.0 268.8L442.8 266.6L443.6 264.3L444.4 262.0L445.2 259.7L446.1 257.5L446.9 255.2L447.7 252.9L448.6 250.7L449.4 248.4L450.3 246.2L451.1 243.9L452.0 241.7L452.9 239.4L453.8 237.2L454.7 234.9L455.6 232.7L456.5 230.5L457.5 228.2L458.4 226.0L459.4 223.8L460.4 221.6L461.3 219.4L462.3 217.2L463.3 215.0L464.3 212.8L465.4 210.6L466.4 208.4L467.5 206.3L468.5 204.1L469.6 201.9L470.7 199.8L471.8 197.6L472.9 195.5L474.1 193.3L475.2 191.2L476.4 189.1L477.6 186.9L478.7 184.8L480.0 182.7L481.2 180.6L482.4 178.6L483.7 176.5L484.9 174.4L486.2 172.4L487.5 170.3L488.8 168.3L490.2 166.3L491.5 164.3L492.9 162.3L494.3 160.3L495.7 158.3L497.1 156.4L498.5 154.5L500.0 152.5L501.4 150.6L502.9 148.7L504.4 146.9L505.9 145.0L507.5 143.2L509.0 141.4L510.6 139.6L512.2 137.8L513.8 136.0L515.5 134.3L517.1 132.5L518.8 130.8L520.5 129.2L522.2 127.5L523.9 125.9L525.7 124.2L527.4 122.6L529.2 121.1L531.1 119.5L532.9 118.0L534.7 116.5L536.6 115.0L538.5 113.6L540.4 112.1L542.4 110.7L544.4 109.4L546.3 108.0L548.3 106.7L550.4 105.4L552.4 104.1L554.5 102.9L556.6 101.7L558.7 100.5L560.8 99.3L563.0 98.1L565.1 97.0L567.3 95.9L569.5 94.9L571.7 93.8L573.9 92.8L576.1 91.8L578.3 90.8L580.6 89.8L582.8 88.9L585.1 87.9L587.3 87.0L589.6 86.2L591.9 85.3L594.2 84.4L596.5 83.6L598.7 82.8L601.0 82.0L603.3 81.2L605.7 80.5L608.0 79.8L610.3 79.0L612.6 78.3L614.9 77.6L617.2 77.0L619.5 76.3L621.9 75.7L624.2 75.0L626.5 74.4L628.8 73.8L631.2 73.3L633.5 72.7L635.9 72.1L638.2 71.6L640.5 71.0L642.9 70.5L645.2 70.0L647.6 69.5L649.9 69.0L652.3 68.6L654.6 68.1L657.0 67.7L659.4 67.2L661.7 66.8L664.1 66.4L666.5 65.9L668.8 65.5L671.2 65.1L673.6 64.7L675.9 64.4L678.3 64.0L680.7 63.6L683.0 63.3L685.4 62.9L687.8 62.6L690.2 62.2L692.6 61.9L694.9 61.6L697.3 61.3L699.7 60.9L702.1 60.6L704.5 60.3L706.9 60.0L709.2 59.8L711.6 59.5L714.0 59.2L716.4 58.9L718.8 58.7L721.2 58.4L723.6 58.2L726.0 57.9L728.4 57.7L730.8 57.4L733.2 57.2L735.6 57.0L738.0 56.8L740.4 56.6L742.8 56.3L745.2 56.1L747.6 55.9L750.0 55.7L752.4 55.6L754.8 55.4L757.2 55.2L759.6 55.0L762.0 54.8L764.4 54.7L766.8 54.5L769.2 54.3L771.6 54.2L774.0 54.0L776.4 53.9L778.8 53.7L781.2 53.6L783.6 53.4L786.0 53.3L788.4 53.1L790.9 53.0L793.3 52.9L795.7 52.8L798.1 52.6L800.5 52.5L802.9 52.4L805.3 52.3L807.7 52.2L810.1 52.0L812.5 51.9L815.0 51.8L817.4 51.7L819.8 51.6L822.2 51.5L824.6 51.4L827.0 51.3L829.4 51.2L831.8 51.1L834.2 51.0L836.6 50.9L839.1 50.8L841.5 50.8L843.9 50.7L846.3 50.6L848.7 50.5L851.1 50.4L853.5 50.3L855.9 50.3L858.3 50.2L860.8 50.1L863.2 50.0L865.6 50.0L868.0 49.9L870.4 49.8L872.8 49.8L875.2 49.7L877.6 49.6L880.0 49.6L882.5 49.5L884.9 49.4L887.3 49.4L889.7 49.3L892.1 49.3L894.5 49.2L896.9 49.2L899.3 49.1L901.7 49.0L904.1 49.0L906.6 48.9L909.0 48.9L911.4 48.9L913.8 48.8L916.2 48.8L918.6 48.7L921.0 48.7L923.4 48.6L925.8 48.6L928.3 48.6L930.7 48.5L933.1 48.5L935.5 48.4L937.9 48.4L940.3 48.4L942.7 48.3L945.1 48.3L947.5 48.3L950.0 48.2L952.4 48.2L954.8 48.2L957.2 48.2L959.6 48.1L962.0 48.1L964.4 48.1L966.8 48.1L969.2 48.0L971.7 48.0L974.1 48.0L976.5 48.0L978.9 47.9L981.3 47.9L983.7 47.9L986.1 47.9L988.5 47.9L990.9 47.8L993.4 47.8L995.8 47.8L998.2 47.8L1000.6 47.8L1003.0 47.8L1005.4 47.8L1007.8 47.7L1010.2 47.7L1012.6 47.7L1015.1 47.7L1017.5 47.7L1019.9 47.7L1022.3 47.7L1024.7 47.6L1027.1 47.6L1029.5 47.6L1031.9 47.6L1034.4 47.6L1036.8 47.6L1039.2 47.6L1041.6 47.6L1044.0 47.6L1046.4 47.6L1048.8 47.6L1051.2 47.5L1053.6 47.5L1056.1 47.5L1058.5 47.5L1060.9 47.5L1063.3 47.5L1065.7 47.5L1068.1 47.5L1070.5 47.5L1072.9 47.5L1075.3 47.5L1077.8 47.5L1080.2 47.4L1082.6 47.4L1085.0 47.4L1087.4 47.4L1089.8 47.4L1092.2 47.4L1094.6 47.4L1097.0 47.4L1099.5 47.4L1101.9 47.4L1104.3 47.4L1106.7 47.4L1109.1 47.3L1111.5 47.3L1113.9 47.3L1116.3 47.3L1118.8 47.3L1121.2 47.3L1123.6 47.3L1126.0 47.3L1128.4 47.3L1130.8 47.3L1133.2 47.2L1135.6 47.2L1138.0 47.2L1140.5 47.2L1142.9 47.2L1145.3 47.2L1147.7 47.2L1150.1 47.2L1152.5 47.2L1154.9 47.1L1157.3 47.1L1159.7 47.1L1162.2 47.1L1164.6 47.1L1167.0 47.1L1169.4 47.1L1171.8 47.1L1174.2 47.0L1176.6 47.0L1179.0 47.0L1181.5 47.0L1183.9 47.0L1186.3 47.0L1188.7 47.0L1191.1 47.0L1193.5 46.9L1195.9 46.9L1198.3 46.9L1200.7 46.9L1203.2 46.9L1205.6 46.9L1208.0 46.9L1210.4 46.8L1212.8 46.8L1215.2 46.8L1217.6 46.8L1220.0 46.8L1222.5 46.8L1224.9 46.8L1227.3 46.8L1229.7 46.7L1232.1 46.7L1234.5 46.7L1236.9 46.7L1239.3 46.7L1241.7 46.7L1244.2 46.7L1246.6 46.6L1249.0 46.6L1251.4 46.6L1253.8 46.6L1256.2 46.6L1258.6 46.6L1261.0 46.6L1263.5 46.5L1265.9 46.5L1268.3 46.5L1270.7 46.5L1273.1 46.5L1275.5 46.5L1277.9 46.4L1280.3 46.4L1282.7 46.4L1285.2 46.4L1287.6 46.4L1290.0 46.4L1292.4 46.4L1294.8 46.3L1297.2 46.3L1299.6 46.3L1302.0 46.3L1304.5 46.3L1306.9 46.3L1309.3 46.3L1311.7 46.2L1314.1 46.2L1316.5 46.2L1318.9 46.2L1321.3 46.2L1323.7 46.2L1326.2 46.2L1328.6 46.1L1331.0 46.1L1333.4 46.1L1335.8 46.1L1338.2 46.1L1340.6 46.1L1343.0 46.0L1345.5 46.0L1347.9 46.0L1350.3 46.0L1352.7 46.0L1355.1 46.0L1357.5 46.0L1359.9 45.9L1362.3 45.9L1364.7 45.9L1367.2 45.9L1369.6 45.9L1372.0 45.9L1374.4 45.9L1376.8 45.8L1379.2 45.8L1381.6 45.8L1384.0 45.8L1386.5 45.8L1388.9 45.8L1391.3 45.8L1393.7 45.7L1396.1 45.7L1398.5 45.7L1400.9 45.7L1403.3 45.7L1405.7 45.7L1408.2 45.7L1410.6 45.6L1413.0 45.6L1415.4 45.6L1417.8 45.6L1420.2 45.6L1422.6 45.6L1425.0 45.6L1427.5 45.6L1429.9 45.5L1432.3 45.5L1434.7 45.5L1437.1 45.5L1439.5 45.5L1441.9 45.5L1444.3 45.5L1446.7 45.4L1449.2 45.4L1451.6 45.4L1454.0 45.4L1456.4 45.4L1458.8 45.4L1461.2 45.4L1463.6 45.4L1466.0 45.3L1468.5 45.3L1470.9 45.3L1473.3 45.3L1475.7 45.3L1478.1 45.3L1480.5 45.3L1482.9 45.3L1485.3 45.3L1487.8 45.2L1490.2 45.2L1492.6 45.2L1495.0 45.2L1497.4 45.2L1499.8 45.2L1502.2 45.2L1504.6 45.2L1507.0 45.2L1509.5 45.2L1511.9 45.1L1514.3 45.1L1516.7 45.1L1519.1 45.1L1521.5 45.1L1523.9 45.1L1526.3 45.1L1528.8 45.1L1531.2 45.1L1533.6 45.1L1536.0 45.0L1538.4 45.0L1540.8 45.0L1543.2 45.0L1545.6 45.0L1548.0 45.0L1550.5 45.0L1552.9 45.0L1555.3 45.0L1557.7 45.0L1560.1 45.0L1562.5 45.0L1564.9 45.0L1567.3 45.0L1569.8 44.9L1572.2 44.9L1574.6 44.9L1577.0 44.9L1579.4 44.9L1581.8 44.9L1584.2 44.9L1586.6 44.9L1589.0 44.9L1591.5 44.9L1593.9 44.9L1596.3 44.9L1598.7 44.9L1601.1 44.9L1603.5 44.9L1605.9 44.9L1608.3 44.9L1610.8 44.9L1613.2 44.9L1615.6 44.9L1618.0 44.9L1620.4 44.8L1622.8 44.8L1625.2 44.8L1627.6 44.8L1630.0 44.8L1632.5 44.8L1634.9 44.8L1637.3 44.8L1639.7 44.8L1642.1 44.8L1644.5 44.8L1646.9 44.8L1649.3 44.8L1651.8 44.8L1654.2 44.8L1656.6 44.8L1659.0 44.8L1661.4 44.8L1663.8 44.8L1666.2 44.8L1668.6 44.8L1671.0 44.8L1673.5 44.8L1675.9 44.8L1678.3 44.8L1680.7 44.8L1683.1 44.8L1685.5 44.8L1687.9 44.9L1690.3 44.9L1692.7 44.9L1695.2 44.9L1697.6 44.9L1700.0 44.9L1702.4 44.9L1704.8 44.9L1707.2 44.9L1709.6 44.9L1712.0 44.9L1714.5 44.9L1716.9 44.9L1719.3 44.9L1721.7 44.9L1724.1 44.9L1726.5 44.9L1728.9 44.9L1731.3 45.0L1733.7 45.0L1736.2 45.0L1738.6 45.0L1741.0 45.0L1743.4 45.0L1745.8 45.0L1748.2 45.0L1750.6 45.0L1753.0 45.0L1755.5 45.0L1757.9 45.1L1760.3 45.1L1762.7 45.1L1765.1 45.1L1767.5 45.1L1769.9 45.1L1772.3 45.1L1774.7 45.1L1777.2 45.1L1779.6 45.2L1782.0 45.2L1784.4 45.2L1786.8 45.2" fill="none" stroke="#EDB120" stroke-width="13.5" stroke-linejoin="round" stroke-linecap="butt" stroke-dasharray="55 14.43 27.64 14.93"/>
<path d="M269.5 1163.5L270.9 1161.5L272.3 1159.5L273.7 1157.5L275.1 1155.6L276.5 1153.6L277.9 1151.6L279.4 1149.6L280.8 1147.7L282.2 1145.7L283.6 1143.7L285.1 1141.8L286.5 1139.8L287.9 1137.9L289.4 1135.9L290.8 1134.0L292.2 1132.0L293.7 1130.1L295.1 1128.1L296.6 1126.2L298.0 1124.2L299.5 1122.3L301.0 1120.3L302.4 1118.4L303.9 1116.4L305.3 1114.5L306.8 1112.6L308.3 1110.6L309.7 1108.7L311.2 1106.8L312.7 1104.8L314.1 1102.9L315.6 1101.0L317.1 1099.0L318.5 1097.1L320.0 1095.2L321.5 1093.2L323.0 1091.3L324.4 1089.4L325.9 1087.5L327.4 1085.5L328.8 1083.6L330.3 1081.7L331.8 1079.7L333.3 1077.8L334.7 1075.9L336.2 1074.0L337.7 1072.0L339.1 1070.1L340.6 1068.2L342.1 1066.2L343.6 1064.3L345.0 1062.4L346.5 1060.5L348.0 1058.5L349.4 1056.6L350.9 1054.7L352.3 1052.7L353.8 1050.8L355.3 1048.8L356.7 1046.9L358.2 1045.0L359.6 1043.0L361.1 1041.1L362.5 1039.1L364.0 1037.2L365.4 1035.3L366.8 1033.3L368.3 1031.4L369.7 1029.4L371.1 1027.5L372.6 1025.5L374.0 1023.5L375.4 1021.6L376.8 1019.6L378.3 1017.7L379.7 1015.7L381.1 1013.7L382.5 1011.8L383.9 1009.8L385.3 1007.8L386.7 1005.8L388.1 1003.9L389.5 1001.9L390.9 999.9L392.2 997.9L393.6 995.9L395.0 993.9L396.4 991.9L397.7 989.9L399.1 987.9L400.4 985.9L401.8 983.9L403.1 981.9L404.5 979.9L405.8 977.9L407.1 975.8L408.4 973.8L409.7 971.8L411.1 969.7L412.4 967.7L413.7 965.7L415.0 963.6L416.2 961.6L417.5 959.5L418.8 957.5L420.1 955.4L421.3 953.3L422.6 951.3L423.8 949.2L425.1 947.1L426.3 945.0L427.6 942.9L428.8 940.8L430.0 938.8L431.2 936.7L432.4 934.5L433.6 932.4L434.8 930.3L436.0 928.2L437.2 926.1L438.4 924.0L439.6 921.9L440.7 919.7L441.9 917.6L443.0 915.5L444.2 913.3L445.3 911.2L446.5 909.0L447.6 906.9L448.7 904.7L449.9 902.6L451.0 900.4L452.1 898.2L453.2 896.1L454.3 893.9L455.4 891.7L456.5 889.6L457.6 887.4L458.7 885.2L459.7 883.0L460.8 880.8L461.9 878.6L462.9 876.4L464.0 874.2L465.0 872.0L466.1 869.8L467.1 867.6L468.2 865.4L469.2 863.2L470.2 861.0L471.2 858.8L472.3 856.6L473.3 854.4L474.3 852.1L475.3 849.9L476.3 847.7L477.3 845.5L478.3 843.2L479.2 841.0L480.2 838.8L481.2 836.5L482.2 834.3L483.1 832.1L484.1 829.8L485.1 827.6L486.0 825.3L487.0 823.1L487.9 820.8L488.9 818.6L489.8 816.3L490.7 814.1L491.7 811.8L492.6 809.6L493.5 807.3L494.4 805.0L495.4 802.8L496.3 800.5L497.2 798.2L498.1 796.0L499.0 793.7L499.9 791.4L500.8 789.2L501.7 786.9L502.6 784.6L503.4 782.4L504.3 780.1L505.2 777.8L506.1 775.5L506.9 773.2L507.8 771.0L508.7 768.7L509.5 766.4L510.4 764.1L511.2 761.8L512.1 759.6L512.9 757.3L513.8 755.0L514.6 752.7L515.5 750.4L516.3 748.1L517.1 745.9L517.9 743.6L518.8 741.3L519.6 739.0L520.4 736.7L521.2 734.4L522.1 732.1L522.9 729.9L523.7 727.6L524.5 725.3L525.3 723.0L526.1 720.7L526.9 718.4L527.7 716.1L528.5 713.8L529.3 711.5L530.1 709.2L530.9 706.9L531.6 704.7L532.4 702.4L533.2 700.1L534.0 697.8L534.8 695.5L535.5 693.2L536.3 690.9L537.1 688.6L537.9 686.3L538.6 684.0L539.4 681.7L540.2 679.4L540.9 677.1L541.7 674.8L542.4 672.5L543.2 670.2L544.0 667.9L544.7 665.6L545.5 663.3L546.2 661.0L547.0 658.7L547.7 656.4L548.5 654.1L549.2 651.8L549.9 649.5L550.7 647.2L551.4 644.9L552.2 642.6L552.9 640.3L553.6 638.0L554.4 635.7L555.1 633.4L555.8 631.1L556.6 628.8L557.3 626.5L558.0 624.2L558.8 621.9L559.5 619.6L560.2 617.3L561.0 615.0L561.7 612.7L562.4 610.4L563.1 608.1L563.9 605.8L564.6 603.5L565.3 601.2L566.0 598.9L566.8 596.6L567.5 594.3L568.2 592.0L568.9 589.6L569.6 587.3L570.4 585.0L571.1 582.7L571.8 580.4L572.5 578.1L573.2 575.8L574.0 573.5L574.7 571.2L575.4 568.9L576.1 566.6L576.8 564.3L577.6 562.0L578.3 559.7L579.0 557.4L579.7 555.1L580.4 552.8L581.2 550.4L581.9 548.1L582.6 545.8L583.3 543.5L584.1 541.2L584.8 538.9L585.5 536.6L586.2 534.3L586.9 532.0L587.7 529.7L588.4 527.4L589.1 525.1L589.8 522.8L590.6 520.5L591.3 518.2L592.0 515.9L592.8 513.5L593.5 511.2L594.2 508.9L595.0 506.6L595.7 504.3L596.4 502.0L597.2 499.7L597.9 497.4L598.6 495.1L599.4 492.8L600.1 490.5L600.8 488.2L601.6 485.9L602.3 483.6L603.1 481.3L603.8 479.0L604.6 476.7L605.3 474.4L606.1 472.1L606.8 469.7L607.6 467.4L608.3 465.1L609.1 462.8L609.8 460.5L610.6 458.2L611.4 455.9L612.1 453.6L612.9 451.3L613.7 449.0L614.4 446.7L615.2 444.4L616.0 442.1L616.8 439.8L617.5 437.5L618.3 435.2L619.1 432.9L619.9 430.6L620.7 428.3L621.5 426.0L622.2 423.7L623.0 421.4L623.8 419.1L624.6 416.8L625.4 414.5L626.2 412.2L627.0 409.9L627.9 407.6L628.7 405.3L629.5 403.0L630.3 400.7L631.1 398.4L631.9 396.1L632.8 393.8L633.6 391.5L634.4 389.2L635.2 386.9L636.1 384.7L636.9 382.4L637.8 380.1L638.6 377.8L639.4 375.5L640.3 373.2L641.2 370.9L642.0 368.6L642.9 366.3L643.7 364.0L644.6 361.7L645.5 359.4L646.3 357.1L647.2 354.9L648.1 352.6L649.0 350.3L649.9 348.0L650.8 345.7L651.6 343.4L652.5 341.1L653.4 338.8L654.4 336.5L655.3 334.3L656.2 332.0L657.1 329.7L658.0 327.4L658.9 325.1L659.9 322.8L660.8 320.6L661.7 318.3L662.7 316.0L663.6 313.7L664.6 311.4L665.5 309.2L666.5 306.9L667.4 304.6L668.4 302.3L669.4 300.1L670.4 297.8L671.4 295.5L672.3 293.3L673.3 291.0L674.3 288.8L675.3 286.5L676.4 284.3L677.4 282.0L678.4 279.8L679.4 277.6L680.5 275.3L681.5 273.1L682.6 270.9L683.6 268.7L684.7 266.4L685.8 264.2L686.9 262.0L688.0 259.8L689.1 257.6L690.2 255.4L691.3 253.3L692.4 251.1L693.5 248.9L694.7 246.7L695.8 244.6L697.0 242.4L698.1 240.3L699.3 238.2L700.5 236.0L701.7 233.9L702.9 231.8L704.1 229.7L705.3 227.6L706.5 225.5L707.7 223.4L709.0 221.3L710.2 219.3L711.5 217.2L712.8 215.1L714.1 213.1L715.4 211.1L716.7 209.0L718.0 207.0L719.3 205.0L720.7 203.0L722.0 201.0L723.4 199.1L724.7 197.1L726.1 195.1L727.5 193.2L728.9 191.3L730.3 189.3L731.8 187.4L733.2 185.5L734.7 183.6L736.1 181.8L737.6 179.9L739.1 178.0L740.6 176.2L742.1 174.4L743.6 172.5L745.2 170.7L746.7 168.9L748.3 167.2L749.9 165.4L751.5 163.6L753.1 161.9L754.7 160.2L756.3 158.5L758.0 156.8L759.6 155.1L761.3 153.4L763.0 151.7L764.7 150.1L766.4 148.5L768.2 146.8L769.9 145.2L771.7 143.7L773.5 142.1L775.3 140.5L777.1 139.0L778.9 137.5L780.7 136.0L782.6 134.5L784.5 133.0L786.3 131.5L788.2 130.1L790.2 128.7L792.1 127.3L794.0 125.9L796.0 124.5L797.9 123.1L799.9 121.8L801.9 120.4L803.9 119.1L805.9 117.8L808.0 116.5L810.0 115.3L812.1 114.0L814.1 112.8L816.2 111.6L818.3 110.3L820.4 109.2L822.5 108.0L824.6 106.8L826.8 105.7L828.9 104.6L831.1 103.5L833.2 102.4L835.4 101.3L837.6 100.2L839.8 99.2L842.0 98.2L844.2 97.1L846.4 96.1L848.6 95.2L850.8 94.2L853.1 93.3L855.3 92.3L857.6 91.4L859.8 90.5L862.1 89.6L864.4 88.8L866.7 87.9L869.0 87.1L871.3 86.3L873.6 85.5L875.9 84.7L878.2 83.9L880.5 83.2L882.8 82.4L885.1 81.7L887.5 81.0L889.8 80.3L892.2 79.6L894.5 79.0L896.9 78.3L899.2 77.7L901.6 77.1L904.0 76.4L906.3 75.9L908.7 75.3L911.1 74.7L913.5 74.1L915.9 73.6L918.2 73.1L920.6 72.6L923.0 72.0L925.4 71.5L927.8 71.1L930.2 70.6L932.6 70.1L935.1 69.7L937.5 69.2L939.9 68.8L942.3 68.4L944.7 67.9L947.1 67.5L949.6 67.1L952.0 66.8L954.4 66.4L956.8 66.0L959.3 65.6L961.7 65.3L964.1 64.9L966.6 64.6L969.0 64.3L971.4 63.9L973.8 63.6L976.3 63.3L978.7 63.0L981.1 62.7L983.6 62.4L986.0 62.1L988.4 61.8L990.9 61.5L993.3 61.2L995.7 61.0L998.2 60.7L1000.6 60.4L1003.0 60.2L1005.4 59.9L1007.9 59.7L1010.3 59.4L1012.7 59.2L1015.2 59.0L1017.6 58.7L1020.0 58.5L1022.4 58.3L1024.9 58.1L1027.3 57.9L1029.7 57.7L1032.1 57.5L1034.6 57.3L1037.0 57.1L1039.4 56.9L1041.8 56.7L1044.3 56.5L1046.7 56.3L1049.1 56.2L1051.5 56.0L1054.0 55.8L1056.4 55.6L1058.8 55.5L1061.2 55.3L1063.6 55.2L1066.1 55.0L1068.5 54.9L1070.9 54.7L1073.3 54.6L1075.8 54.5L1078.2 54.3L1080.6 54.2L1083.0 54.1L1085.4 54.0L1087.9 53.8L1090.3 53.7L1092.7 53.6L1095.1 53.5L1097.6 53.4L1100.0 53.3L1102.4 53.2L1104.8 53.1L1107.2 53.0L1109.7 52.9L1112.1 52.8L1114.5 52.7L1116.9 52.6L1119.3 52.5L1121.8 52.4L1124.2 52.3L1126.6 52.3L1129.0 52.2L1131.4 52.1L1133.9 52.0L1136.3 51.9L1138.7 51.9L1141.1 51.8L1143.5 51.7L1146.0 51.7L1148.4 51.6L1150.8 51.5L1153.2 51.5L1155.6 51.4L1158.1 51.4L1160.5 51.3L1162.9 51.2L1165.3 51.2L1167.7 51.1L1170.2 51.1L1172.6 51.0L1175.0 51.0L1177.4 50.9L1179.9 50.9L1182.3 50.8L1184.7 50.8L1187.1 50.7L1189.5 50.7L1192.0 50.6L1194.4 50.6L1196.8 50.5L1199.2 50.5L1201.6 50.4L1204.1 50.4L1206.5 50.3L1208.9 50.3L1211.3 50.2L1213.8 50.2L1216.2 50.1L1218.6 50.1L1221.0 50.0L1223.4 50.0L1225.9 49.9L1228.3 49.9L1230.7 49.8L1233.1 49.8L1235.6 49.8L1238.0 49.7L1240.4 49.7L1242.8 49.6L1245.3 49.6L1247.7 49.5L1250.1 49.5L1252.5 49.4L1255.0 49.4L1257.4 49.3L1259.8 49.3L1262.2 49.3L1264.7 49.2L1267.1 49.2L1269.5 49.1L1271.9 49.1L1274.4 49.0L1276.8 49.0L1279.2 48.9L1281.6 48.9L1284.1 48.9L1286.5 48.8L1288.9 48.8L1291.4 48.7L1293.8 48.7L1296.2 48.6L1298.6 48.6L1301.1 48.5L1303.5 48.5L1305.9 48.5L1308.3 48.4L1310.8 48.4L1313.2 48.3L1315.6 48.3L1318.1 48.3L1320.5 48.2L1322.9 48.2L1325.3 48.1L1327.8 48.1L1330.2 48.0L1332.6 48.0L1335.0 48.0L1337.5 47.9L1339.9 47.9L1342.3 47.8L1344.8 47.8L1347.2 47.8L1349.6 47.7L1352.0 47.7L1354.5 47.6L1356.9 47.6L1359.3 47.6L1361.8 47.5L1364.2 47.5L1366.6 47.4L1369.1 47.4L1371.5 47.4L1373.9 47.3L1376.3 47.3L1378.8 47.3L1381.2 47.2L1383.6 47.2L1386.1 47.1L1388.5 47.1L1390.9 47.1L1393.3 47.0L1395.8 47.0L1398.2 47.0L1400.6 46.9L1403.1 46.9L1405.5 46.9L1407.9 46.8L1410.4 46.8L1412.8 46.8L1415.2 46.7L1417.6 46.7L1420.1 46.7L1422.5 46.6L1424.9 46.6L1427.4 46.6L1429.8 46.5L1432.2 46.5L1434.7 46.5L1437.1 46.4L1439.5 46.4L1442.0 46.4L1444.4 46.3L1446.8 46.3L1449.2 46.3L1451.7 46.2L1454.1 46.2L1456.5 46.2L1459.0 46.1L1461.4 46.1L1463.8 46.1L1466.3 46.1L1468.7 46.0L1471.1 46.0L1473.6 46.0L1476.0 45.9L1478.4 45.9L1480.8 45.9L1483.3 45.9L1485.7 45.8L1488.1 45.8L1490.6 45.8L1493.0 45.8L1495.4 45.7L1497.9 45.7L1500.3 45.7L1502.7 45.7L1505.2 45.6L1507.6 45.6L1510.0 45.6L1512.5 45.6L1514.9 45.5L1517.3 45.5L1519.7 45.5L1522.2 45.5L1524.6 45.4L1527.0 45.4L1529.5 45.4L1531.9 45.4L1534.3 45.4L1536.8 45.3L1539.2 45.3L1541.6 45.3L1544.1 45.3L1546.5 45.3L1548.9 45.2L1551.3 45.2L1553.8 45.2L1556.2 45.2L1558.6 45.2L1561.1 45.1L1563.5 45.1L1565.9 45.1L1568.4 45.1L1570.8 45.1L1573.2 45.1L1575.7 45.0L1578.1 45.0L1580.5 45.0L1582.9 45.0L1585.4 45.0L1587.8 45.0L1590.2 45.0L1592.7 44.9L1595.1 44.9L1597.5 44.9L1600.0 44.9L1602.4 44.9L1604.8 44.9L1607.2 44.9L1609.7 44.9L1612.1 44.9L1614.5 44.8L1617.0 44.8L1619.4 44.8L1621.8 44.8L1624.2 44.8L1626.7 44.8L1629.1 44.8L1631.5 44.8L1634.0 44.8L1636.4 44.8L1638.8 44.8L1641.3 44.8L1643.7 44.8L1646.1 44.8L1648.5 44.7L1651.0 44.7L1653.4 44.7L1655.8 44.7L1658.3 44.7L1660.7 44.7L1663.1 44.7L1665.5 44.7L1668.0 44.7L1670.4 44.7L1672.8 44.7L1675.2 44.7L1677.7 44.7L1680.1 44.7L1682.5 44.7L1685.0 44.7L1687.4 44.7L1689.8 44.7L1692.2 44.7L1694.7 44.7L1697.1 44.7L1699.5 44.7L1701.9 44.8L1704.4 44.8L1706.8 44.8L1709.2 44.8L1711.7 44.8L1714.1 44.8L1716.5 44.8L1718.9 44.8L1721.4 44.8L1723.8 44.8L1726.2 44.8L1728.6 44.8L1731.1 44.8L1733.5 44.9L1735.9 44.9L1738.3 44.9L1740.8 44.9L1743.2 44.9L1745.6 44.9L1748.0 44.9L1750.5 44.9L1752.9 45.0L1755.3 45.0L1757.7 45.0L1760.1 45.0L1762.6 45.0L1765.0 45.0L1767.4 45.0L1769.8 45.1L1772.3 45.1L1774.7 45.1L1777.1 45.1L1779.5 45.1L1782.0 45.2L1784.4 45.2L1786.8 45.2" fill="none" stroke="#7E2F8E" stroke-width="13.5" stroke-linejoin="round" stroke-linecap="butt" stroke-dasharray="13 15.018" stroke-dashoffset="1.35"/>
<text x="266.0" y="1289.5" font-family="'Liberation Sans', Arial, Helvetica, sans-serif" font-size="70" fill="#262626" text-anchor="middle">0</text>
<text x="576.0" y="1289.5" font-family="'Liberation Sans', Arial, Helvetica, sans-serif" font-size="70" fill="#262626" text-anchor="middle">50</text>
<text x="884.7" y="1289.5" font-family="'Liberation Sans', Arial, Helvetica, sans-serif" font-size="70" fill="#262626" text-anchor="middle">100</text>
<text x="1196.6" y="1289.5" font-family="'Liberation Sans', Arial, Helvetica, sans-serif" font-size="70" fill="#262626" text-anchor="middle">150</text>
<text x="1502.4" y="1289.5" font-family="'Liberation Sans', Arial, Helvetica, sans-serif" font-size="70" fill="#262626" text-anchor="middle">200</text>
<text x="239.5" y="72.8" font-family="'Liberation Sans', Arial, Helvetica, sans-serif" font-size="70" fill="#262626" text-anchor="end">0</text>
<text x="240" y="454.9" font-family="'Liberation Sans', Arial, Helvetica, sans-serif" font-size="70" fill="#262626" text-anchor="end">-0.5</text>
<text x="238.4" y="836.0" font-family="'Liberation Sans', Arial, Helvetica, sans-serif" font-size="70" fill="#262626" text-anchor="end">-1</text>
<text x="240" y="1218.3" font-family="'Liberation Sans', Arial, Helvetica, sans-serif" font-size="70" fill="#262626" text-anchor="end">-1.5</text>
<text x="1028.8" y="1390.5" font-family="'Liberation Sans', Arial, Helvetica, sans-serif" font-size="78.6" fill="#262626" text-anchor="middle">Time [s]</text>
<text transform="translate(92,617.4) rotate(-90)" x="0" y="0" font-family="'Liberation Sans', Arial, Helvetica, sans-serif" font-size="78" fill="#262626" text-anchor="middle">Vertical velocity [m/s]</text>
<rect x="1093.1" y="85.6" width="655.0" height="588.7" fill="#fff" stroke="#262626" stroke-width="2.7"/>
<path d="M1106.6 162.4H1247.3" stroke="#0072BD" stroke-width="13.5" fill="none"/>
<text x="1255" y="185.5" font-family="'Liberation Serif', 'Times New Roman', serif" font-size="73" fill="#000" transform="translate(1255 0) scale(1.04 1) translate(-1255 0)">Γ</text>
<text x="1300.5" y="221.0" font-family="'Liberation Sans', Arial, Helvetica, sans-serif" font-size="58" fill="#000">0</text>
<text x="1353.5" y="185.5" font-family="'Liberation Sans', Arial, Helvetica, sans-serif" font-size="70" fill="#000">= 250m<tspan dy="-35" font-size="58">2</tspan><tspan dy="35">/s</tspan></text>
<path d="M1106.6 306.0H1247.3" stroke="#D95319" stroke-width="13.5" fill="none" stroke-dasharray="54.5 56.5"/>
<text x="1255" y="332.8" font-family="'Liberation Serif', 'Times New Roman', serif" font-size="73" fill="#000" transform="translate(1255 0) scale(1.04 1) translate(-1255 0)">Γ</text>
<text x="1300.5" y="368.3" font-family="'Liberation Sans', Arial, Helvetica, sans-serif" font-size="58" fill="#000">0</text>
<text x="1353.5" y="332.8" font-family="'Liberation Sans', Arial, Helvetica, sans-serif" font-size="70" fill="#000">= 417m<tspan dy="-35" font-size="58">2</tspan><tspan dy="35">/s</tspan></text>
<path d="M1106.6 453.3H1247.3" stroke="#EDB120" stroke-width="13.5" fill="none" stroke-dasharray="54.5 14.3 27.4 14.8"/>
<text x="1255" y="476.5" font-family="'Liberation Serif', 'Times New Roman', serif" font-size="73" fill="#000" transform="translate(1255 0) scale(1.04 1) translate(-1255 0)">Γ</text>
<text x="1300.5" y="512.0" font-family="'Liberation Sans', Arial, Helvetica, sans-serif" font-size="58" fill="#000">0z</text>
<text x="1381.9" y="476.5" font-family="'Liberation Sans', Arial, Helvetica, sans-serif" font-size="70" fill="#000">= 458m<tspan dy="-35" font-size="58">2</tspan><tspan dy="35">/s</tspan></text>
<path d="M1106.6 597.0H1247.3" stroke="#7E2F8E" stroke-width="13.5" fill="none" stroke-dasharray="13 14.8"/>
<text x="1255" y="623.5" font-family="'Liberation Serif', 'Times New Roman', serif" font-size="73" fill="#000" transform="translate(1255 0) scale(1.04 1) translate(-1255 0)">Γ</text>
<text x="1300.5" y="659.0" font-family="'Liberation Sans', Arial, Helvetica, sans-serif" font-size="58" fill="#000">02z</text>
<text x="1413.1" y="623.5" font-family="'Liberation Sans', Arial, Helvetica, sans-serif" font-size="70" fill="#000">= 458m<tspan dy="-35" font-size="58">2</tspan><tspan dy="35">/s</tspan></text>
</g>
</svg></body></html>
